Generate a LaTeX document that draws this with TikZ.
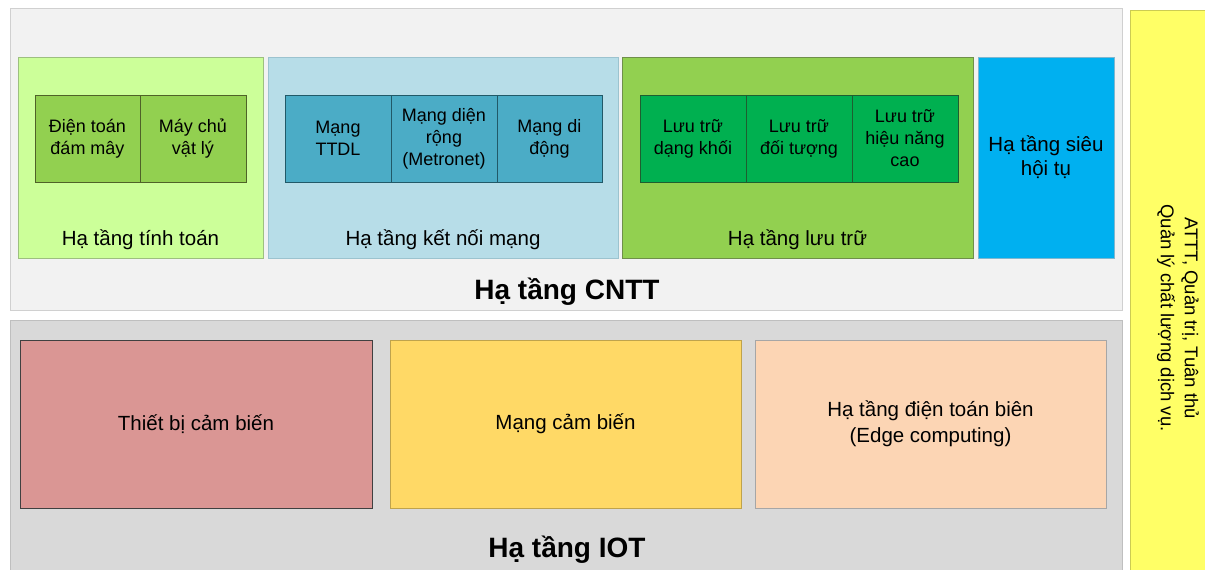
\documentclass[tikz,border=0pt]{standalone}
\usepackage{fontspec}
\setmainfont{Liberation Sans}
\definecolor{pTop}{HTML}{F2F2F2}
\definecolor{pTopB}{HTML}{D0D0D0}
\definecolor{pBot}{HTML}{D9D9D9}
\definecolor{pBotB}{HTML}{BFBFBF}
\definecolor{yel}{HTML}{FFFF66}
\definecolor{cmpF}{HTML}{CCFF99}
\definecolor{cmpB}{HTML}{9DBF80}
\definecolor{cmpC}{HTML}{92D050}
\definecolor{cmpCB}{HTML}{4F6228}
\definecolor{netF}{HTML}{B7DDE8}
\definecolor{netB}{HTML}{9CC3CF}
\definecolor{netC}{HTML}{4BACC6}
\definecolor{netCB}{HTML}{215968}
\definecolor{stoF}{HTML}{92D050}
\definecolor{stoB}{HTML}{6F8F4A}
\definecolor{stoC}{HTML}{00B050}
\definecolor{stoCB}{HTML}{1E5E30}
\definecolor{hciF}{HTML}{00B0F0}
\definecolor{hciB}{HTML}{7FB7CF}
\definecolor{ioA}{HTML}{DA9694}
\definecolor{ioB}{HTML}{FFD966}
\definecolor{ioC}{HTML}{FCD5B4}
\begin{document}
\begin{tikzpicture}[x=1pt,y=-1pt,
  box/.style={rectangle,inner sep=0pt,line width=0.8pt},
  cell/.style={box,minimum width=106pt,minimum height=87pt,align=center,font=\fontsize{18}{22}\selectfont},
  group/.style={box,minimum height=201pt},
  lab/.style={font=\fontsize{20.5}{24}\selectfont,inner sep=0pt},
  big/.style={font=\fontsize{28}{32}\selectfont\bfseries,inner sep=0pt},
  iot/.style={box,minimum width=351pt,minimum height=168pt,align=center,font=\fontsize{20.5}{26}\selectfont}]
\useasboundingbox (0,0) rectangle (1205,570);
\fill[white] (0,0) rectangle (1205,570);
% panels
\node[box,fill=pTop,draw=pTopB,minimum width=1112pt,minimum height=302pt] (cntt) at (566,159) {};
\node[box,fill=pBot,draw=pBotB,minimum width=1112pt,minimum height=252pt] (iotp) at (566,446) {};
\node[box,fill=yel,draw=yel!80!black,minimum width=75pt,minimum height=562pt] (sec) at (1167.5,291) {};
\node[rotate=-90,align=center,font=\fontsize{18.5}{24}\selectfont,inner sep=0pt] (secl) at (1178,318) {ATTT, Quản trị, Tuân thủ\\Quản lý chất lượng dịch vụ.};
% groups
\node[group,fill=cmpF,draw=cmpB,minimum width=245pt] (cmp) at (140.5,157.5) {};
\node[group,fill=netF,draw=netB,minimum width=350pt] (net) at (443,157.5) {};
\node[group,fill=stoF,draw=stoB,minimum width=351pt] (sto) at (797.5,157.5) {};
\node[group,fill=hciF,draw=hciB,minimum width=136pt,align=center,font=\fontsize{20.5}{24}\selectfont] (hci) at (1046,157.5) {Hạ tầng siêu\\hội tụ};
\node[lab] (cmpl) at (140.5,240) {Hạ tầng tính toán};
\node[lab] (netl) at (443,240) {Hạ tầng kết nối mạng};
\node[lab] (stol) at (797.5,240) {Hạ tầng lưu trữ};
% cells
\node[cell,fill=cmpC,draw=cmpCB,minimum width=105pt] (c1) at (87.5,138.5) {Điện toán\\đám mây};
\node[cell,fill=cmpC,draw=cmpCB] (c2) at (193,138.5) {Máy chủ\\vật lý};
\node[cell,fill=netC,draw=netCB] (n1) at (338,138.5) {Mạng\\TTDL};
\node[cell,fill=netC,draw=netCB] (n2) at (444,138.5) {Mạng diện\\rộng\\(Metronet)};
\node[cell,fill=netC,draw=netCB,minimum width=105pt] (n3) at (549.5,138.5) {Mạng di\\động};
\node[cell,fill=stoC,draw=stoCB] (s1) at (693,138.5) {Lưu trữ\\dạng khối};
\node[cell,fill=stoC,draw=stoCB] (s2) at (799,138.5) {Lưu trữ\\đối tượng};
\node[cell,fill=stoC,draw=stoCB] (s3) at (905,138.5) {Lưu trữ\\hiệu năng\\cao};
\node[big] (cnttl) at (567,292) {Hạ tầng CNTT};
% IOT
\node[iot,fill=ioA,draw=black!75,minimum width=352pt] (i1) at (196,424) {Thiết bị cảm biến};
\node[iot,fill=ioB,draw=ioB!75!black] (i2) at (565.5,424) {Mạng cảm biến};
\node[iot,fill=ioC,draw=black!35] (i3) at (930.5,424) {Hạ tầng điện toán biên\\(Edge computing)};
\node[big] (iotl) at (567,550) {Hạ tầng IOT};
\end{tikzpicture}
\end{document}
